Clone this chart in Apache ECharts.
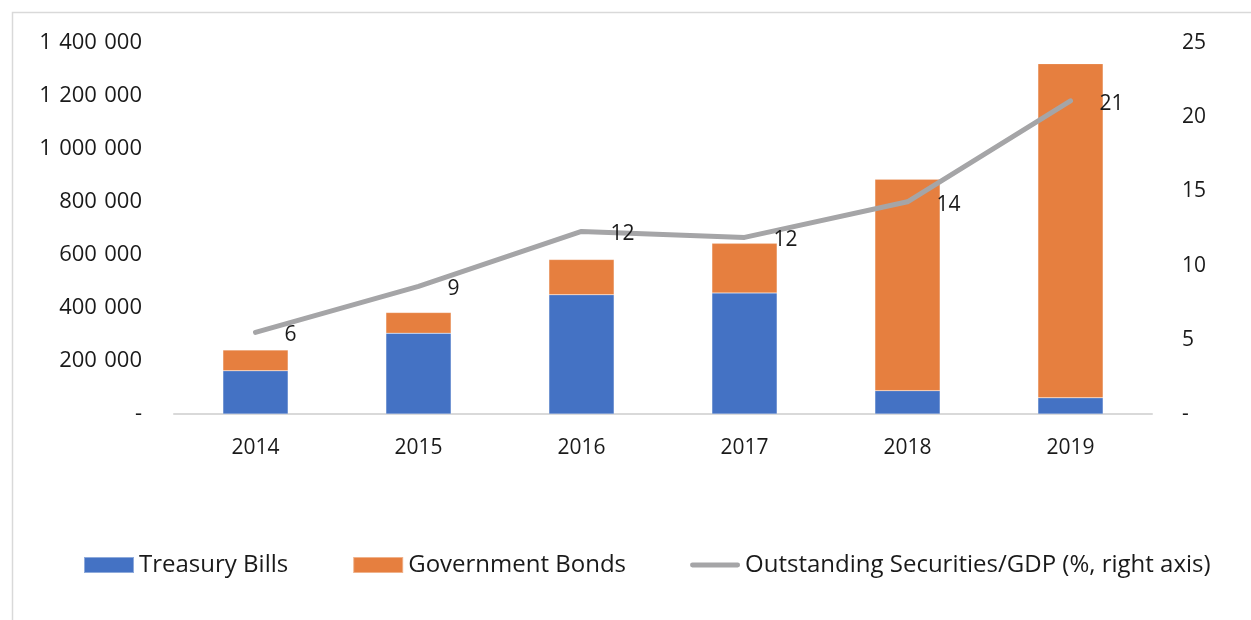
<!DOCTYPE html>
<html>
<head>
<meta charset="utf-8">
<script src="https://cdn.jsdelivr.net/npm/echarts@6/dist/echarts.min.js"></script>
<style>
html,body{margin:0;padding:0;background:#fff;}
#c{width:1251px;height:620px;}
</style>
</head>
<body>
<div id="c"></div>
<script>
const categories = ['2014','2015','2016','2017','2018','2019'];
const treasuryBills = [163000, 305000, 450000, 457000, 88000, 61000];
const governmentBonds = [78500, 78000, 133000, 187000, 798000, 1261000];
const securitiesToGDP = [5.5, 8.6, 12.3, 11.9, 14.3, 21.1];
const leftTicks = {min: 0, max: 1400000, interval: 200000};
const rightTicks = {min: 0, max: 25, interval: 5};

const FONT = 'Open Sans';
function fmtSpace(v){
  if (v === 0) return '-';
  return String(Math.round(v)).replace(/\B(?=(\d{3})+(?!\d))/g, '\u2004');
}

const chart = echarts.init(document.getElementById('c'), null, {renderer:'canvas'});
chart.setOption({
  backgroundColor: '#fff',
  animation: false,
  textStyle: {fontFamily: FONT},
  graphic: [{
    type: 'rect', left: 10, top: 10,
    shape: {width: 1250, height: 630},
    style: {fill: 'none', stroke: '#d9d9d9', lineWidth: 1.5},
    silent: true
  }],
  grid: {left: 174, right: 99, top: 43, bottom: 206},
  legend: {
    top: 553, left: 83, padding: 0,
    itemGap: 64,
    itemWidth: 50, itemHeight: 16,
    textStyle: {fontFamily: FONT, fontSize: 24, color: '#1a1a1a'},
    data: [
      {name: 'Treasury Bills', icon: 'rect'},
      {name: 'Government Bonds', icon: 'rect'},
      {name: 'Outstanding Securities/GDP (%, right axis)', icon: 'path://M0,0 M52,16 M2.5,5.5 L49.5,5.5 A2.5,2.5 0 0 1 49.5,10.5 L2.5,10.5 A2.5,2.5 0 0 1 2.5,5.5 Z'}
    ]
  },
  xAxis: {
    type: 'category', data: categories,
    axisLine: {lineStyle: {color: '#d9d9d9', width: 2}},
    axisTick: {show: false},
    axisLabel: {color: '#1a1a1a', fontSize: 21, fontFamily: FONT, margin: 24}
  },
  yAxis: [{
    type: 'value', min: leftTicks.min, max: leftTicks.max, interval: leftTicks.interval,
    axisLine: {show: false}, axisTick: {show: false}, splitLine: {show: false},
    axisLabel: {color: '#1a1a1a', fontSize: 22, fontFamily: FONT, margin: 32, formatter: fmtSpace}
  },{
    type: 'value', min: rightTicks.min, max: rightTicks.max, interval: rightTicks.interval,
    position: 'right',
    axisLine: {show: false}, axisTick: {show: false}, splitLine: {show: false},
    axisLabel: {color: '#1a1a1a', fontSize: 21, fontFamily: FONT, margin: 30, formatter: fmtSpace}
  }],
  series: [{
    name: 'Treasury Bills', type: 'bar', stack: 's', data: treasuryBills,
    barWidth: '40%',
    itemStyle: {color: '#4472C4', borderColor: 'rgba(255,255,255,0.4)', borderWidth: 0.5}
  },{
    name: 'Government Bonds', type: 'bar', stack: 's', data: governmentBonds,
    barWidth: '40%',
    itemStyle: {color: '#E67F3F', borderColor: 'rgba(255,255,255,0.4)', borderWidth: 0.5}
  },{
    name: 'Outstanding Securities/GDP (%, right axis)', type: 'line', yAxisIndex: 1,
    data: securitiesToGDP,
    symbol: 'circle', symbolSize: 0.01, showSymbol: true,
    lineStyle: {color: '#A5A5A7', width: 5, cap: 'round', join: 'round'},
    itemStyle: {color: '#A5A5A7'},
    label: {
      show: true, position: 'right', distance: 29, offset: [0, 3],
      color: '#1a1a1a', fontSize: 21, fontFamily: FONT,
      formatter: p => Math.round(p.value)
    }
  }]
});
</script>
</body>
</html>
